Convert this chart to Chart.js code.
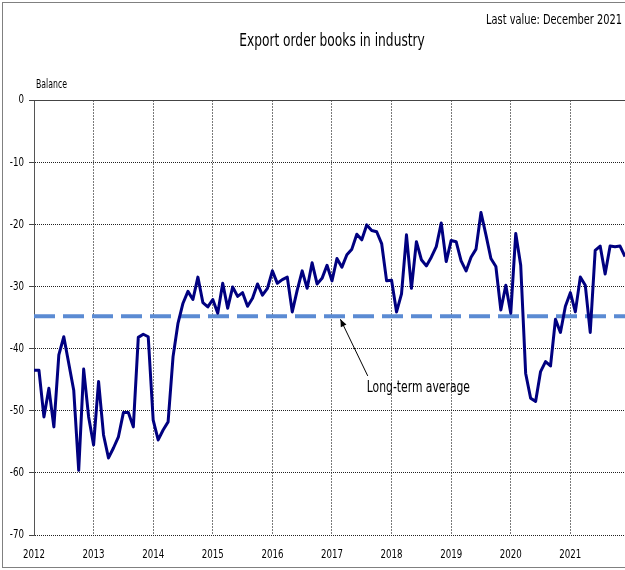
<!DOCTYPE html>
<html><head><meta charset="utf-8">
<script src="https://cdn.jsdelivr.net/npm/chart.js@4.4.1/dist/chart.umd.min.js"></script>
<style>html,body{margin:0;padding:0;background:#fff;}canvas{display:block;}</style>
</head><body>
<canvas id="c" width="625" height="570"></canvas>
<script>
// ---- data ----
const yearLabels = ['2012','2013','2014','2015','2016','2017','2018','2019','2020','2021'];
const values2012 = [-43.5,-43.5,-51,-46.4,-52.6,-41,-38.1,-42.4,-46.7,-59.6,-43.3,-51];
const values2013 = [-55.5,-45.3,-53.9,-57.6,-56,-54.2,-50.3,-50.3,-52.6,-38.2,-37.7,-38.1];
const values2014 = [-51.5,-54.7,-53.1,-51.8,-41.3,-35.9,-32.7,-30.8,-32.1,-28.5,-32.6,-33.3];
const values2015 = [-32.1,-34.3,-29.5,-33.5,-30.1,-31.6,-31,-33.2,-31.9,-29.6,-31.4,-30.3];
const values2016 = [-27.5,-29.5,-28.9,-28.5,-34.1,-30.6,-27.5,-30.3,-26.2,-29.6,-28.7,-26.6];
const values2017 = [-29.1,-25.5,-26.9,-24.9,-24,-21.6,-22.5,-20.1,-21,-21.2,-23.1,-29.1];
const values2018 = [-29,-34.1,-31.2,-21.7,-30.3,-22.8,-25.7,-26.7,-25.3,-23.6,-19.8,-26];
const values2019 = [-22.6,-22.8,-25.9,-27.5,-25.3,-24,-18.1,-21.7,-25.5,-26.8,-33.8,-29.8];
const values2020 = [-34.3,-21.5,-26.6,-44,-48,-48.5,-43.7,-42.1,-42.8,-35.3,-37.4,-33.2];
const values2021 = [-31,-34.1,-28.5,-29.8,-37.4,-24.2,-23.5,-28,-23.5,-23.6,-23.5,-25.2];
const longTermAverage = -34.8;
const yTickValues = [0,-10,-20,-30,-40,-50,-60,-70];
const titleText = 'Export order books in industry';
const lastValueText = 'Last value: December 2021';
const yAxisTitle = 'Balance';
const annotationText = 'Long-term average';
// annotation anchors in data units (month index, balance)
const annotationTip = {x: 61.7, y: -34.8};
const annotationTail = {x: 67.2, y: -44.4};
const annotationLabel = {x: 77.4, y: -46.3};

const monthly = [].concat(values2012, values2013, values2014, values2015, values2016,
                          values2017, values2018, values2019, values2020, values2021);
const seriesPoints = monthly.map((v, i) => ({x: i, y: v}));
const avgPoints = [{x: 0, y: longTermAverage}, {x: monthly.length - 1, y: longTermAverage}];

const FONT = '"DejaVu Sans Condensed", "DejaVu Sans", sans-serif';

function condText(ctx, text, x, y, size, sx, align) {
  ctx.save();
  ctx.font = size + 'px ' + FONT;
  ctx.textAlign = align;
  ctx.textBaseline = 'middle';
  ctx.fillStyle = '#000';
  ctx.translate(x, y);
  ctx.scale(sx, 1);
  ctx.fillText(text, 0, 0);
  ctx.restore();
}

const decor = {
  id: 'decor',
  beforeDraw(chart) {
    const ctx = chart.ctx;
    ctx.save();
    ctx.fillStyle = '#fff';
    ctx.fillRect(0, 0, chart.width, chart.height);
    ctx.strokeStyle = '#808080';
    ctx.lineWidth = 1;
    ctx.strokeRect(2.5, 2.5, chart.width + 10, chart.height - 5);
    ctx.restore();
  },
  afterDraw(chart) {
    const ctx = chart.ctx;
    const ca = chart.chartArea;
    const xs = chart.scales.x, ys = chart.scales.y;
    ctx.save();
    // solid top line at 0
    ctx.strokeStyle = '#444';
    ctx.lineWidth = 1;
    ctx.beginPath();
    ctx.moveTo(ca.left, Math.round(ys.getPixelForValue(0)) + 0.5);
    ctx.lineTo(ca.right, Math.round(ys.getPixelForValue(0)) + 0.5);
    ctx.stroke();
    // tick labels
    xs.ticks.forEach(t => condText(ctx, yearLabels[Math.round(t.value / 12)], xs.getPixelForValue(t.value), 555, 13, 0.74, 'center'));
    ys.ticks.forEach(t => condText(ctx, String(t.value), 24, ys.getPixelForValue(t.value), 13, 0.74, 'right'));
    // texts
    condText(ctx, lastValueText, 622, 20, 14, 0.78, 'right');
    condText(ctx, titleText, 332, 42, 17, 0.8, 'center');
    condText(ctx, yAxisTitle, 36, 85, 12, 0.72, 'left');
    // annotation arrow
    const tx = xs.getPixelForValue(annotationTip.x), ty = ys.getPixelForValue(annotationTip.y) + 3;
    const sx = xs.getPixelForValue(annotationTail.x), sy = ys.getPixelForValue(annotationTail.y);
    ctx.strokeStyle = '#000';
    ctx.lineWidth = 1;
    ctx.beginPath();
    ctx.moveTo(sx, sy);
    ctx.lineTo(tx, ty);
    ctx.stroke();
    const ang = Math.atan2(ty - sy, tx - sx);
    const L = 8, W = 0.4;
    ctx.beginPath();
    ctx.moveTo(tx, ty);
    ctx.lineTo(tx - L * Math.cos(ang - W), ty - L * Math.sin(ang - W));
    ctx.lineTo(tx - L * Math.cos(ang + W), ty - L * Math.sin(ang + W));
    ctx.closePath();
    ctx.fillStyle = '#000';
    ctx.fill();
    condText(ctx, annotationText, xs.getPixelForValue(annotationLabel.x), ys.getPixelForValue(annotationLabel.y), 15, 0.8, 'center');
    ctx.restore();
  }
};

new Chart(document.getElementById('c'), {
  type: 'line',
  data: {
    datasets: [
      {
        data: seriesPoints,
        borderColor: '#000080',
        borderWidth: 3,
        pointRadius: 0,
        tension: 0,
        borderJoinStyle: 'round',
        fill: false
      },
      {
        data: avgPoints,
        borderColor: '#5b8bd3',
        borderWidth: 4,
        borderDash: [21, 8],
        pointRadius: 0,
        tension: 0,
        fill: false
      }
    ]
  },
  options: {
    responsive: false,
    animation: false,
    events: [],
    layout: {padding: {top: 100, left: 0, right: 0, bottom: 0}},
    plugins: {legend: {display: false}, tooltip: {enabled: false}, title: {display: false}},
    scales: {
      x: {
        type: 'linear',
        min: 0,
        max: monthly.length - 1,
        afterBuildTicks: s => { s.ticks = yearLabels.map((_, i) => ({value: i * 12})); },
        afterFit: s => { s.height = 35; },
        ticks: {display: false, autoSkip: false, maxRotation: 0},
        grid: {color: '#7a7a7a', lineWidth: 1, drawTicks: false},
        border: {display: false, dash: [2, 1]}
      },
      y: {
        min: -70,
        max: 0,
        afterBuildTicks: s => { s.ticks = yTickValues.map(v => ({value: v})); },
        afterFit: s => { s.width = 34; },
        ticks: {display: false},
        grid: {color: '#222', lineWidth: 1, drawTicks: true, tickLength: 5, tickColor: '#444'},
        border: {display: true, color: '#555', width: 1, dash: [1, 1]}
      }
    }
  },
  plugins: [decor]
});
</script>
</body></html>
